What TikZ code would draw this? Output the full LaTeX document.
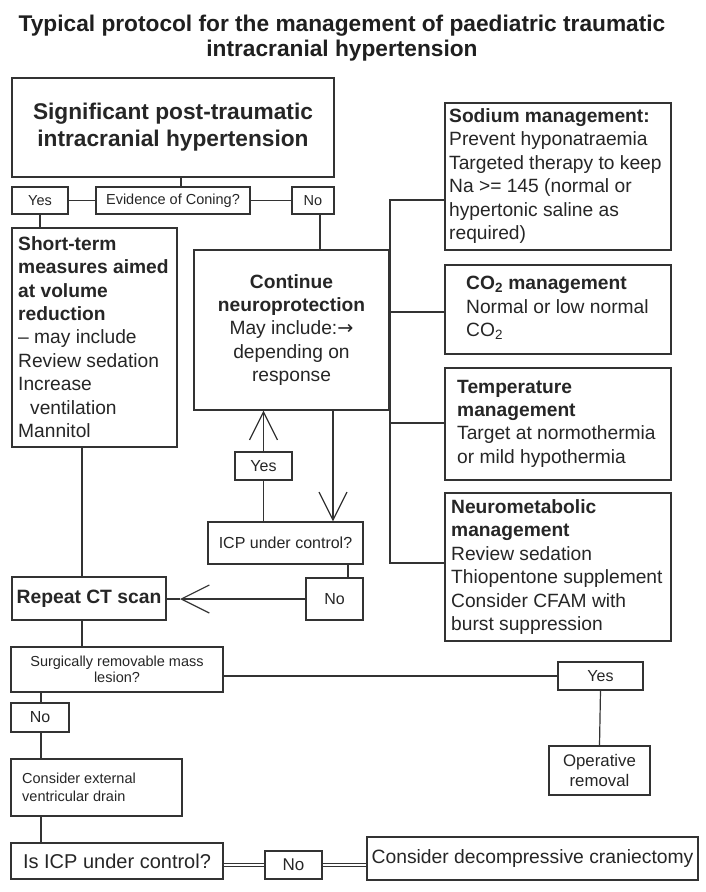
\documentclass[tikz,border=0pt]{standalone}
\usepackage{fontspec}
\setmainfont{Liberation Sans}
\newfontfamily\djv{DejaVu Sans}
\usetikzlibrary{arrows.meta}
\definecolor{lc}{HTML}{333333}
\definecolor{tc}{HTML}{262626}
\newcommand{\fsz}[2]{\fontsize{#1}{#2}\selectfont}
\begin{document}
\begin{tikzpicture}[x=1pt,y=-1pt,
  box/.style={draw=lc, line width=1.2pt, inner sep=0pt, text=tc, align=center},
  ltxt/.style={anchor=west, inner sep=0pt, align=left, text=tc},
  conn/.style={draw=lc, line width=1.2pt},
  dbl/.style={draw=lc, line width=0.8pt, double, double distance=1.6pt},
  arr/.style={conn, -{Straight Barb[length=28pt,width=28pt]}},
  small/.style={font=\fsz{14.5}{16}},
  mid/.style={font=\fsz{16}{20}},
  body/.style={font=\fsz{19.2}{23.4}}
]
\fill[white] (0,0) rectangle (706,892);
\useasboundingbox (0,0) rectangle (706,892);

% title
\node[font=\bfseries\fsz{22.7}{24.5}, text=black!88, align=center] (title) at (342,38)
  {Typical protocol for the management of paediatric traumatic\\intracranial hypertension};

% top box
\node[box, minimum width=322pt, minimum height=99pt, font=\bfseries\fsz{22.7}{27}] (A) at (173,127.5)
  {Significant post-traumatic\\intracranial hypertension};

% coning row
\node[box, small, minimum width=56pt, minimum height=27pt] (yes1) at (40,200.5) {Yes};
\node[box, small, minimum width=154pt, minimum height=27pt] (evid) at (173,200.5) {Evidence of Coning?};
\node[box, small, minimum width=42pt, minimum height=27pt] (no1) at (313,200.5) {No};

% short-term box
\node[box, minimum width=165pt, minimum height=219pt] (st) at (94.5,337.5) {};
\node[ltxt, body] (stt) at (18,337) {\textbf{Short-term}\\\textbf{measures aimed}\\\textbf{at volume}\\\textbf{reduction}\\– may include\\Review sedation\\Increase\\\hspace*{12pt}ventilation\\Mannitol};

% continue neuroprotection
\node[box, body, minimum width=195pt, minimum height=160pt] (cont) at (291.5,330)
  {\textbf{Continue}\\\textbf{neuroprotection}\\May include:{\djv →}\\depending on\\response};

% right column
\node[box, minimum width=226pt, minimum height=147pt] (sod) at (558,176.5) {};
\node[ltxt, body] (sodt) at (449,176) {\textbf{Sodium management:}\\Prevent hyponatraemia\\Targeted therapy to keep\\Na >= 145 (normal or\\hypertonic saline as\\required)};
\node[box, minimum width=226pt, minimum height=89pt] (co2) at (558,309.5) {};
\node[ltxt, body] (co2t) at (466,308) {\textbf{CO\textsubscript{2} management}\\Normal or low normal\\CO\textsubscript{2}};
\node[box, minimum width=226pt, minimum height=112pt] (temp) at (558,424) {};
\node[ltxt, body] (tempt) at (457,423.5) {\textbf{Temperature}\\\textbf{management}\\Target at normothermia\\or mild hypothermia};
\node[box, minimum width=226pt, minimum height=148pt] (neu) at (558,567) {};
\node[ltxt, body] (neut) at (451,567) {\textbf{Neurometabolic}\\\textbf{management}\\Review sedation\\Thiopentone supplement\\Consider CFAM with\\burst suppression};

% ICP loop
\node[box, mid, minimum width=57pt, minimum height=28pt] (yes2) at (263.5,466) {Yes};
\node[box, mid, minimum width=155pt, minimum height=42pt] (icp) at (285.5,543) {ICP under control?};
\node[box, mid, minimum width=57pt, minimum height=42pt] (no2) at (334.5,599) {No};
\node[box, minimum width=154pt, minimum height=43pt, font=\bfseries\fsz{19.3}{23}] (rep) at (89,598.5) {Repeat CT scan};

% bottom section
\node[box, small, minimum width=212pt, minimum height=45pt] (surg) at (117,669.5) {Surgically removable mass\\lesion?};
\node[box, mid, minimum width=85pt, minimum height=28pt] (yes3) at (600.5,676) {Yes};
\node[box, mid, minimum width=58pt, minimum height=29pt] (no3) at (40,717.5) {No};
\node[box, font=\fsz{16.8}{20}, minimum width=101pt, minimum height=49pt] (op) at (599.5,770.5) {Operative\\removal};
\node[box, minimum width=171pt, minimum height=57pt] (evd) at (96.5,787.5) {};
\node[ltxt, small, font=\fsz{14.5}{18}] (evdt) at (22,787) {Consider external\\ventricular drain};
\node[box, font=\fsz{20}{24}, minimum width=212pt, minimum height=36pt] (isicp) at (117,861) {Is ICP under control?};
\node[box, font=\fsz{17}{20}, minimum width=57pt, minimum height=28pt] (no4) at (293.5,865) {No};
\node[box, font=\fsz{19.3}{23}, minimum width=331pt, minimum height=43pt] (dec) at (532.5,858.5) {Consider decompressive craniectomy};

% connectors top
\coordinate (ax) at (181,0);
\draw[conn] (A.south -| ax) -- (evid.north -| ax);
\draw[conn] (yes1.east) -- (evid.west);
\draw[conn] (evid.east) -- (no1.west);
\draw[conn] (yes1.south) -- (yes1.south |- st.north);
\coordinate (nx) at (320,0);
\draw[conn] (no1.south -| nx) -- (cont.north -| nx);

% bus to right column
\coordinate (b1) at (390,200);
\coordinate (b2) at (390,312);
\coordinate (b3) at (390,423);
\coordinate (b4) at (390,563);
\draw[conn] (b1 -| sod.west) -- (b1) -- (b4) -- (b4 -| neu.west);
\draw[conn] (b2) -- (b2 -| co2.west);
\draw[conn] (b3) -- (b3 -| temp.west);

% ICP loop connectors
\draw[arr] (yes2.north) -- (yes2.north |- cont.south);
\draw[conn] (yes2.south) -- (yes2.south |- icp.north);
\coordinate (dx) at (333,0);
\draw[arr] (cont.south -| dx) -- (icp.north -| dx);
\coordinate (ex) at (348,0);
\draw[conn] (icp.south -| ex) -- (no2.north -| ex);
\coordinate (ah) at (180,599);
\draw[arr] (no2.west) -- (ah);
\draw[conn] (ah) -- (rep.east |- ah);
\coordinate (sx) at (82,0);
\draw[conn] (st.south -| sx) -- (rep.north -| sx);
\draw[conn] (rep.south -| sx) -- (surg.north -| sx);

% bottom connectors
\draw[conn] (yes3.west -| surg.east) -- (yes3.west);
\draw[conn] (yes3.south) -- (op.north);
\coordinate (lx) at (41,0);
\draw[conn] (surg.south -| lx) -- (no3.north -| lx);
\draw[conn] (no3.south -| lx) -- (evd.north -| lx);
\draw[conn] (evd.south -| lx) -- (isicp.north -| lx);
\draw[dbl] (no4.west -| isicp.east) -- (no4.west);
\draw[dbl] (no4.east) -- (no4.east -| dec.west);
\end{tikzpicture}
\end{document}
